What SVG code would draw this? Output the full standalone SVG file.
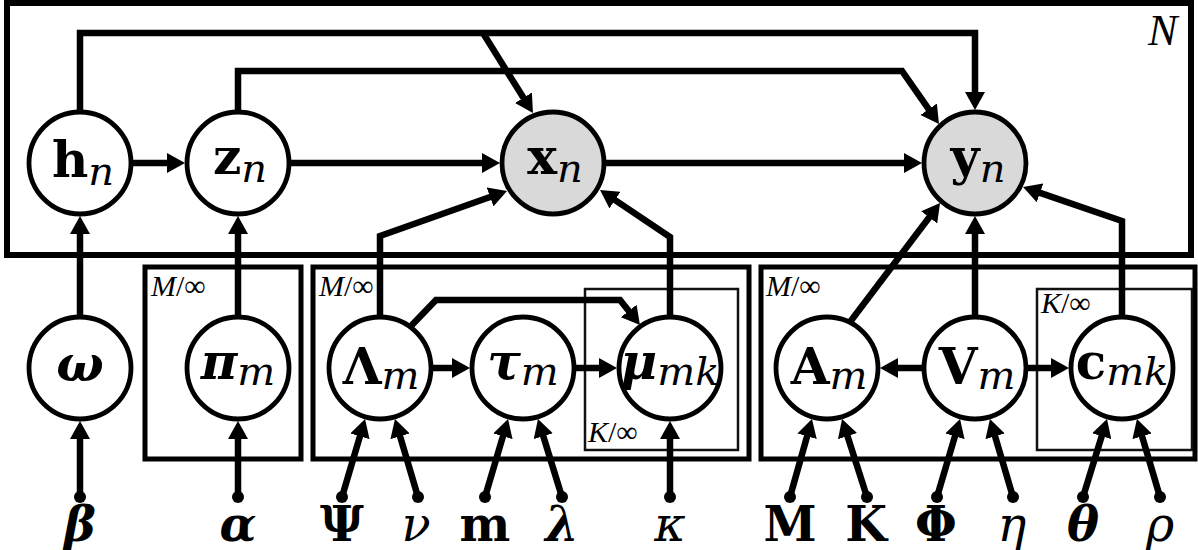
<svg xmlns="http://www.w3.org/2000/svg" width="1198" height="550" viewBox="0 0 1198 550">
<defs>
<marker id="ah" markerUnits="userSpaceOnUse" markerWidth="18" markerHeight="20" viewBox="0 0 18 20" refX="3" refY="10" orient="auto">
<path d="M0,0 L18,10 L0,20 z" fill="#000"/>
</marker>
<style>
.node{fill:#fff;stroke:#000;stroke-width:4.8}
.obs{fill:#d9d9d9}
.e{fill:none;stroke:#000;stroke-width:6.5;stroke-linejoin:miter;marker-end:url(#ah)}
.plate{fill:none;stroke:#000;stroke-width:5}
.iplate{fill:none;stroke:#111;stroke-width:2.5}
.lab{font-family:"DejaVu Serif",serif;font-size:50px;text-anchor:middle;fill:#000}
.b{font-weight:bold}
.i{font-style:italic}
.bi{font-weight:bold;font-style:italic}
.sub{font-family:"DejaVu Serif",serif;font-style:italic;font-weight:normal;font-size:40px}
.hyp{font-family:"DejaVu Serif",serif;font-size:48px;text-anchor:middle;fill:#000}
.pl{font-family:"Liberation Serif",serif;font-size:30px;fill:#000}
.big{font-size:44px;font-style:italic}
.dot{fill:#000}
</style>
</defs>
<g id="plates">
<rect x="7" y="3" width="1184" height="252" fill="none" stroke="#000" stroke-width="6"/>
<text class="pl big" x="1148" y="45">N</text>
<rect class="plate" x="145" y="267" width="156" height="192"/>
<text class="pl" x="151" y="296"><tspan font-style="italic">M</tspan>/∞</text>
<rect class="plate" x="313" y="267" width="436" height="192"/>
<text class="pl" x="319" y="296"><tspan font-style="italic">M</tspan>/∞</text>
<rect class="iplate" x="585" y="289" width="153" height="161"/>
<text class="pl" x="588" y="442"><tspan font-style="italic">K</tspan>/∞</text>
<rect class="plate" x="761" y="267" width="434" height="192"/>
<text class="pl" x="766" y="296"><tspan font-style="italic">M</tspan>/∞</text>
<rect class="iplate" x="1037" y="289" width="155" height="161"/>
<text class="pl" x="1041" y="313"><tspan font-style="italic">K</tspan>/∞</text>
</g>
<g id="connectors">
<path class="e" d="M131,163 H170"/>
<path class="e" d="M289,163 H485"/>
<path class="e" d="M604,163 H907"/>
<path class="e" d="M80,112 V33 H975 V95"/>
<path class="e" d="M483,33 L525,100.3"/>
<path class="e" d="M238,112 V71 H902 L930.4,111.7"/>
<path class="e" d="M380,317 V236 L492.9,196"/>
<path class="e" d="M670,317 V237 L612.5,198.4"/>
<path class="e" d="M850,322 L931,215"/>
<path class="e" d="M975,317 V231"/>
<path class="e" d="M1122,317 V221 L1037.2,191.9"/>
<path class="e" d="M80,317 V231"/>
<path class="e" d="M238,317 V231"/>
<path class="e" d="M431,368 H455"/>
<path class="e" d="M574,368 H602"/>
<path class="e" d="M411,326 L436,300 H620 L630.6,313.3"/>
<path class="e" d="M924,368 H895"/>
<path class="e" d="M1026,368 H1054"/>
<path class="e" d="M80,497 V436"/>
<path class="e" d="M238,497 V436"/>
<path class="e" d="M342,497 L360.8,433.4"/>
<path class="e" d="M418,497 L399.2,433.4"/>
<path class="e" d="M485,497 L503.8,433.4"/>
<path class="e" d="M562,497 L542.4,433.3"/>
<path class="e" d="M670,497 V436"/>
<path class="e" d="M790,497 L807.9,433.4"/>
<path class="e" d="M867,497 L846.6,433.3"/>
<path class="e" d="M937,497 L955.8,433.4"/>
<path class="e" d="M1013,497 L994.2,433.4"/>
<path class="e" d="M1083,497 L1102.6,433.3"/>
<path class="e" d="M1160,497 L1141.2,433.4"/>
</g>
<g id="node-h"><circle class="node" cx="80" cy="163" r="51"/><text class="lab" x="83" y="177"><tspan class="b">h</tspan><tspan class="sub" dy="8">n</tspan></text></g>
<g id="node-z"><circle class="node" cx="238" cy="163" r="51"/><text class="lab" x="240" y="174"><tspan class="b">z</tspan><tspan class="sub" dy="8">n</tspan></text></g>
<g id="node-x"><circle class="node obs" cx="553" cy="163" r="51"/><text class="lab" x="555" y="174"><tspan class="b">x</tspan><tspan class="sub" dy="8">n</tspan></text></g>
<g id="node-y"><circle class="node obs" cx="975" cy="163" r="51"/><text class="lab" x="978" y="174"><tspan class="b">y</tspan><tspan class="sub" dy="8">n</tspan></text></g>
<g id="node-omega"><circle class="node" cx="80" cy="368" r="51"/><text class="lab" x="80" y="381"><tspan class="bi">ω</tspan></text></g>
<g id="node-pi"><circle class="node" cx="238" cy="368" r="51"/><text class="lab" x="238" y="379"><tspan class="bi">π</tspan><tspan class="sub" dy="6">m</tspan></text></g>
<g id="node-Lambda"><circle class="node" cx="380" cy="368" r="51"/><text class="lab" x="381" y="384"><tspan class="b">Λ</tspan><tspan class="sub" dy="5">m</tspan></text></g>
<g id="node-tau"><circle class="node" cx="523" cy="368" r="51"/><text class="lab" x="523" y="379"><tspan class="bi">τ</tspan><tspan class="sub" dy="6">m</tspan></text></g>
<g id="node-mu"><circle class="node" cx="670" cy="368" r="51"/><text class="lab" x="670" y="379"><tspan class="bi">μ</tspan><tspan class="sub" dy="6">mk</tspan></text></g>
<g id="node-A"><circle class="node" cx="827" cy="368" r="51"/><text class="lab" x="829" y="384"><tspan class="b">A</tspan><tspan class="sub" dy="5">m</tspan></text></g>
<g id="node-V"><circle class="node" cx="975" cy="368" r="51"/><text class="lab" x="977" y="384"><tspan class="b">V</tspan><tspan class="sub" dy="5">m</tspan></text></g>
<g id="node-c"><circle class="node" cx="1122" cy="368" r="51"/><text class="lab" x="1122" y="379"><tspan class="b">c</tspan><tspan class="sub" dy="6">mk</tspan></text></g>
<g id="hyperparameters">
<circle class="dot" cx="80" cy="497" r="6"/><text class="hyp bi" x="80" y="541">β</text>
<circle class="dot" cx="238" cy="497" r="6"/><text class="hyp bi" x="238" y="541">α</text>
<circle class="dot" cx="342" cy="497" r="6"/><text class="hyp b" x="342" y="541">Ψ</text>
<circle class="dot" cx="418" cy="497" r="6"/><text class="hyp i" x="416" y="541">ν</text>
<circle class="dot" cx="485" cy="497" r="6"/><text class="hyp b" x="485" y="541">m</text>
<circle class="dot" cx="562" cy="497" r="6"/><text class="hyp bi" x="562" y="541">λ</text>
<circle class="dot" cx="670" cy="497" r="6"/><text class="hyp i" x="670" y="541">κ</text>
<circle class="dot" cx="790" cy="497" r="6"/><text class="hyp b" x="790" y="541">M</text>
<circle class="dot" cx="867" cy="497" r="6"/><text class="hyp b" x="866" y="541">K</text>
<circle class="dot" cx="937" cy="497" r="6"/><text class="hyp b" x="936" y="541">Φ</text>
<circle class="dot" cx="1013" cy="497" r="6"/><text class="hyp i" x="1012" y="541">η</text>
<circle class="dot" cx="1083" cy="497" r="6"/><text class="hyp bi" x="1083" y="541">θ</text>
<circle class="dot" cx="1160" cy="497" r="6"/><text class="hyp i" x="1160" y="541">ρ</text>
</g>
</svg>
